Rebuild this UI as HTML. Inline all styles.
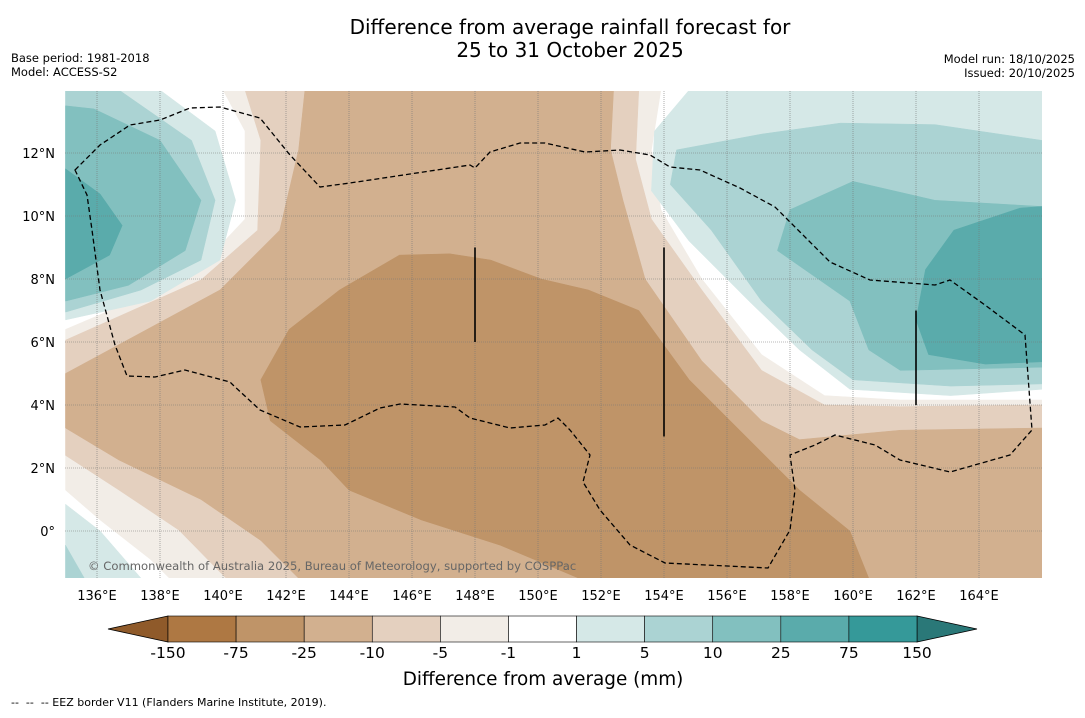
<!DOCTYPE html>
<html><head><meta charset="utf-8"><style>
body{margin:0;background:#fff;font-family:"Liberation Sans","DejaVu Sans",sans-serif;}
svg text{font-family:"DejaVu Sans","Liberation Sans",sans-serif;}
</style></head><body>
<svg id="chart" width="1085" height="713" viewBox="0 0 1085 713" xmlns="http://www.w3.org/2000/svg">
<text x="570" y="34" font-size="20" text-anchor="middle">Difference from average rainfall forecast for</text>
<text x="570" y="57" font-size="20" text-anchor="middle">25 to 31 October 2025</text>
<text x="11" y="62" font-size="11.5">Base period: 1981-2018</text>
<text x="11" y="76" font-size="11.5">Model: ACCESS-S2</text>
<text x="1075" y="63" font-size="11.5" text-anchor="end">Model run: 18/10/2025</text>
<text x="1075" y="77" font-size="11.5" text-anchor="end">Issued: 20/10/2025</text>
<defs><clipPath id="mapclip"><rect x="65" y="91" width="977" height="487"/></clipPath></defs>
<g id="map" clip-path="url(#mapclip)"></g>
<g id="axes"></g>
<g id="cbar"></g>
<text x="543" y="685" font-size="18.4" text-anchor="middle">Difference from average (mm)</text>
<text x="11" y="706" font-size="11" xml:space="preserve">--  --  -- EEZ border V11 (Flanders Marine Institute, 2019).</text>
</svg>
<script>
const lonTicks=[136,138,140,142,144,146,148,150,152,154,156,158,160,162,164];
const latTicks=[0,2,4,6,8,10,12];
const levelLabels=["-150","-75","-25","-10","-5","-1","1","5","10","25","75","150"];
const levelColors=["#ae7843","#bf9468","#d2b08f","#e4d0bf","#f2ede7","#ffffff","#d5e8e7","#abd3d3","#82c0bf","#5aabab","#359999"];
const extendLow="#8f5a2a", extendHigh="#2a7878";
const negLe1=[[140.0,14],[140.7,12.7],[140.7,9.9],[139.0,8.1],[135,6.4],[135,1.3],[136.1,0.35],[137.7,-0.9],[138.3,-1.5],[166,-1.5],[166,4.16],[161.5,4.16],[159.1,4.3],[157.1,5.6],[155.2,8.0],[153.9,10.2],[153.6,12.1],[153.9,14]];
const negLe5=[[140.7,14],[141.2,12.4],[141.1,9.55],[139.3,7.97],[135,6.06],[135,2.4],[136.7,1.3],[138.6,0.03],[140.1,-1.5],[166,-1.5],[166,4.0],[161.5,3.95],[159.1,4.0],[157.1,5.1],[155.2,7.65],[153.6,9.9],[153.1,11.8],[153.2,14]];
const negLe10=[[142.6,14],[142.4,12.1],[141.8,9.55],[139.9,7.65],[135,5.0],[135,3.27],[136.7,2.25],[139.3,1.0],[141.2,-0.3],[142.4,-1.5],[166,-1.5],[166,3.27],[161.5,3.2],[158.3,2.9],[157.1,3.5],[155.2,5.4],[153.4,8.0],[152.7,10.5],[152.3,12.1],[152.4,14]];
const negLe25=[[145.6,8.76],[143.7,7.65],[142.1,6.4],[141.2,4.8],[141.5,3.5],[143.1,2.25],[144.0,1.3],[146.3,0.35],[148.8,-0.45],[151.3,-1.5],[160.5,-1.5],[159.9,0],[158.3,1.3],[156.4,3.2],[154.8,4.8],[153.2,7.0],[151.6,7.65],[150.1,8.0],[148.5,8.6],[147.2,8.8]];
const tlGe1=[[135,14],[138.0,14],[139.75,12.7],[140.4,10.5],[139.9,8.6],[137.7,7.3],[135,6.7]];
const tlGe5=[[135,14],[136.7,14],[139.0,12.4],[139.75,10.5],[139.3,8.6],[137.4,7.65],[135,6.95]];
const tlGe10=[[135,13.5],[135.9,13.4],[138.0,12.4],[139.3,10.5],[138.8,8.9],[137.0,7.8],[135,7.3]];
const tlGe25=[[135,11.5],[136.1,10.7],[136.8,9.7],[136.4,8.76],[135,8.0]];
const trGe1=[[154.8,14],[153.7,12.7],[153.6,10.8],[154.8,9.2],[156.7,7.3],[158.3,5.75],[159.9,4.5],[163.1,4.3],[166,4.5],[166,14]];
const trGe5=[[166,12.4],[162.6,12.9],[159.6,12.95],[157.1,12.6],[154.4,12.1],[154.2,11.0],[155.5,9.55],[157.1,7.3],[158.7,5.75],[160.0,4.8],[163.1,4.6],[166,4.67]];
const trGe10=[[166,10.3],[162.6,10.5],[160,11.1],[158.0,10.2],[157.6,8.9],[159.9,7.3],[160.5,5.75],[161.5,5.1],[166,5.2]];
const trGe25=[[166,10.3],[165.3,10.25],[163.2,9.55],[162.3,8.3],[162.0,6.7],[162.4,5.6],[164.2,5.3],[166,5.37]];
const blGe1=[[135,0.85],[136.1,0],[137.4,-1.5],[135,-1.5]];
const blGe5=[[135,-0.45],[135.6,-1.5],[135,-1.5]];
const zoneLines=[[148,9,6],[154,9,3],[162,7,4]];

const NS="http://www.w3.org/2000/svg";
const X=lon=>65.5+(lon-135)*31.5;
const Y=lat=>531-lat*31.5;
function mk(tag,attrs,parent){const e=document.createElementNS(NS,tag);for(const k in attrs)e.setAttribute(k,attrs[k]);parent.appendChild(e);return e;}
const map=document.getElementById('map');
const bg=mk('rect',{x:65,y:91,width:977,height:487,fill:'#ffffff'},map);


function poly(pts,color,name){
  const d=pts.map((p,i)=>(i?'L':'M')+X(p[0]).toFixed(1)+' '+Y(p[1]).toFixed(1)).join(' ')+'Z';
  const p=mk('path',{d:d,fill:color,stroke:color,'stroke-width':0.5,'stroke-linejoin':'round'},map);
  
  
}
poly(negLe1,levelColors[4],'contour-minus1');
poly(negLe5,levelColors[3],'contour-minus5');
poly(negLe10,levelColors[2],'contour-minus10');
poly(negLe25,levelColors[1],'contour-minus25');
poly(tlGe1,levelColors[6],'contour-plus1-west');
poly(tlGe5,levelColors[7],'contour-plus5-west');
poly(tlGe10,levelColors[8],'contour-plus10-west');
poly(tlGe25,levelColors[9],'contour-plus25-west');
poly(trGe1,levelColors[6],'contour-plus1-east');
poly(trGe5,levelColors[7],'contour-plus5-east');
poly(trGe10,levelColors[8],'contour-plus10-east');
poly(trGe25,levelColors[9],'contour-plus25-east');
poly(blGe1,levelColors[6],'contour-plus1-south');
poly(blGe5,levelColors[7],'contour-plus5-south');
lonTicks.forEach(l=>{const g=mk('line',{x1:X(l),x2:X(l),y1:91,y2:578,stroke:'#777','stroke-width':0.6,'stroke-dasharray':'1,1'},map);

});
latTicks.forEach(l=>{const g=mk('line',{x1:65,x2:1042,y1:Y(l),y2:Y(l),stroke:'#777','stroke-width':0.6,'stroke-dasharray':'1,1'},map);

});
const eez=mk('path',{d:"M75 170 L100 145 L130 125 L160 120 L190 108 L220 107 L260 118 L290 155 L320 187 L350 183 L410 174 L470 165 L475 168 L490 152 L520 143 L545 143 L585 152 L620 150 L650 155 L670 167 L700 170 L740 188 L775 207 L800 232 L830 262 L870 280 L935 285 L950 280 L985 305 L1025 335 L1032 430 L1010 455 L950 472 L900 460 L875 445 L835 435 L815 445 L790 455 L795 490 L790 530 L768 568 L665 563 L630 545 L600 510 L583 482 L590 455 L570 430 L558 418 L545 425 L510 428 L470 418 L455 407 L400 404 L380 408 L345 425 L300 427 L260 410 L233 385 L230 382 L185 370 L155 377 L127 376 L115 345 L100 290 L92 230 L87 195 Z",fill:'none',stroke:'#000','stroke-width':1.3,'stroke-dasharray':'5,3'},map);


zoneLines.forEach(z=>{const l=mk('line',{x1:X(z[0]),x2:X(z[0]),y1:Y(z[1]),y2:Y(z[2]),stroke:'#000','stroke-width':1.6},map);

});
const cp=mk('text',{x:88,y:570,'font-size':11.6,fill:'#666'},map);cp.textContent='© Commonwealth of Australia 2025, Bureau of Meteorology, supported by COSPPac';


const axes=document.getElementById('axes');
lonTicks.forEach(l=>{const t=mk('text',{x:X(l),y:600,'font-size':13,'text-anchor':'middle'},axes);t.textContent=l+'°E';

});
latTicks.forEach(l=>{const t=mk('text',{x:55,y:Y(l)+5,'font-size':13,'text-anchor':'end'},axes);t.textContent=l===0?'0°':l+'°N';

});
const cb=document.getElementById('cbar');
const cx0=168,cx1=917,cy=616,ch=26,bw=(cx1-cx0)/levelColors.length;
const lo=mk('polygon',{points:`108,${cy+ch/2} ${cx0},${cy} ${cx0},${cy+ch}`,fill:extendLow,stroke:'#000','stroke-width':0.8},cb);


const hi=mk('polygon',{points:`977,${cy+ch/2} ${cx1},${cy} ${cx1},${cy+ch}`,fill:extendHigh,stroke:'#000','stroke-width':0.8},cb);


levelColors.forEach((c,i)=>{const r=mk('rect',{x:cx0+i*bw,y:cy,width:bw,height:ch,fill:c,stroke:'#000','stroke-width':0.6},cb);

});
levelLabels.forEach((s,i)=>{const t=mk('text',{x:cx0+i*bw,y:658,'font-size':15.5,'text-anchor':'middle'},cb);t.textContent=s;

});
</script>
</body></html>
